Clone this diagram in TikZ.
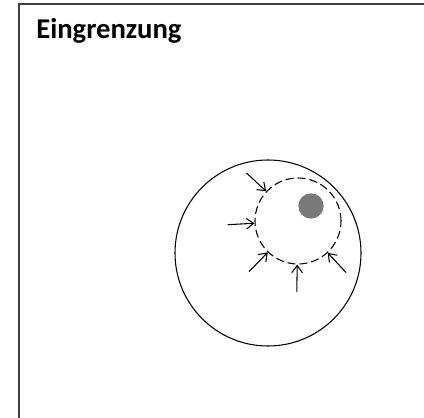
\documentclass[tikz,border=0pt]{standalone}
\usepackage{fontspec}
\setmainfont{Carlito}
\usetikzlibrary{arrows.meta}
\tikzset{
    frameline/.style={draw=black!75, line width=1.5pt},
    inarrow/.style={{Straight Barb[length=5.5pt,width=8pt]}-, line width=0.8pt},
}
\begin{document}
\begin{tikzpicture}[x=0.75pt,y=-0.75pt]
    \useasboundingbox (0,0) rectangle (424,417);
    \draw[frameline] (18.5,420) -- (18.5,4.5) -- (426,4.5);
    \node[anchor=base west, font=\bfseries\fontsize{21.5}{25}\selectfont, inner sep=0pt] (title) at (36,39) {Eingrenzung};
    % aussen
    \node[draw, circle, minimum size=139.5pt, inner sep=0pt, line width=0.8pt] (outer) at (268,253) {};
    % eingegrenzte Zone
    \node[draw, circle, dash pattern=on 6pt off 3pt, minimum size=64.5pt, inner sep=0pt, line width=0.8pt] (zone) at (298,221) {};
    \fill[gray!95!black] (311,206) circle (9.5pt);
    \foreach \a in {137,183,226,269,313}
        \draw[inarrow] (zone.\a) -- ++(-\a:27);
\end{tikzpicture}
\end{document}
